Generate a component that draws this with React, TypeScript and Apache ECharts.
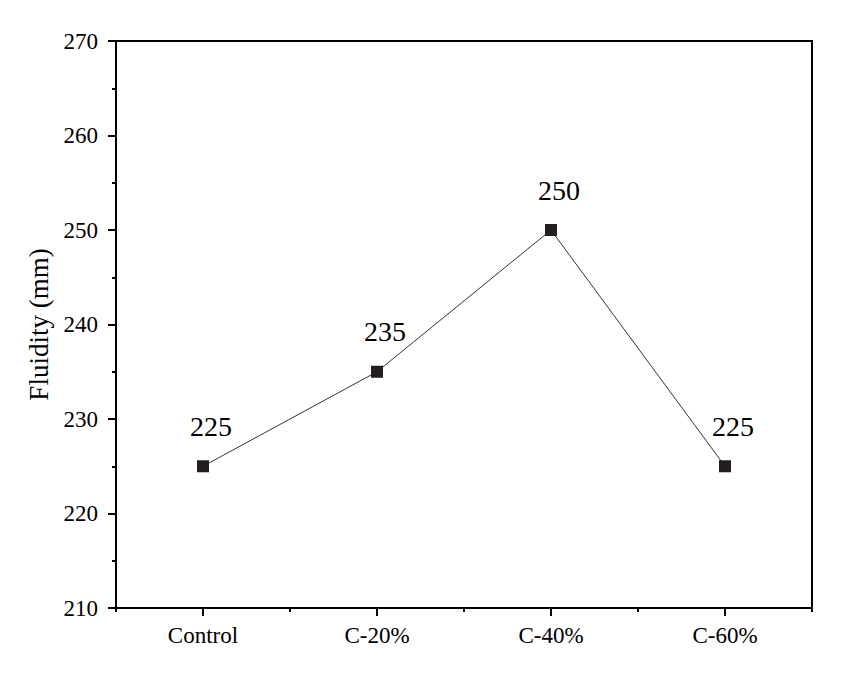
import React, { useEffect, useRef } from "react";
import * as echarts from "echarts";

const categories = ["Control", "C-20%", "C-40%", "C-60%"];
const fluidity = [225, 235, 250, 225];
const yMin = 210;
const yMax = 270;
const yStep = 10;

const FONT = "Liberation Serif";

export default function App() {
  const ref = useRef<HTMLDivElement>(null);
  useEffect(() => {
    if (!ref.current) return;
    const chart = echarts.init(ref.current, undefined, { renderer: "svg" });
    chart.setOption({
      animation: false,
      backgroundColor: "#fff",
      textStyle: { fontFamily: FONT },
      grid: {
        left: 116,
        top: 41,
        right: 44,
        bottom: 72,
        show: true,
        borderColor: "#000",
        borderWidth: 2,
        backgroundColor: "transparent",
      },
      xAxis: [
        {
          type: "category",
          data: categories,
          boundaryGap: true,
          position: "bottom",
          axisLine: { show: true, lineStyle: { color: "#000", width: 2 } },
          axisTick: { show: true, alignWithLabel: true, length: 8, lineStyle: { color: "#000", width: 2 } },
          axisLabel: { color: "#000", fontSize: 23, fontFamily: FONT, margin: 16 },
          splitLine: { show: false },
        },
        {
          type: "category",
          data: categories,
          boundaryGap: true,
          position: "bottom",
          axisLine: { show: false },
          axisTick: { show: true, length: 4, lineStyle: { color: "#000", width: 2 } },
          axisLabel: { show: false },
          splitLine: { show: false },
        },
      ],
      yAxis: {
        type: "value",
        min: yMin,
        max: yMax,
        interval: yStep,
        name: "Fluidity (mm)",
        nameLocation: "middle",
        nameGap: 63,
        nameTextStyle: { color: "#000", fontSize: 27, fontFamily: FONT },
        axisLine: { show: true, lineStyle: { color: "#000", width: 2 } },
        axisTick: { show: true, length: 8, lineStyle: { color: "#000", width: 2 } },
        minorTick: { show: true, splitNumber: 2, length: 4, lineStyle: { color: "#000", width: 2 } },
        axisLabel: { color: "#000", fontSize: 23, fontFamily: FONT, margin: 18 },
        splitLine: { show: false },
      },
      series: [
        {
          type: "line",
          xAxisIndex: 0,
          data: fluidity,
          symbol: "rect",
          symbolSize: 12,
          itemStyle: { color: "#231f20" },
          lineStyle: { color: "#333", width: 1 },
          label: {
            show: true,
            position: "top",
            distance: 20,
            offset: [8, 0],
            color: "#000",
            fontSize: 28,
            fontFamily: FONT,
          },
        },
      ],
    });
    return () => chart.dispose();
  }, []);
  return (
    <div
      ref={ref}
      style={{ position: "fixed", left: 0, top: 0, width: 856, height: 680, background: "#fff" }}
    />
  );
}
